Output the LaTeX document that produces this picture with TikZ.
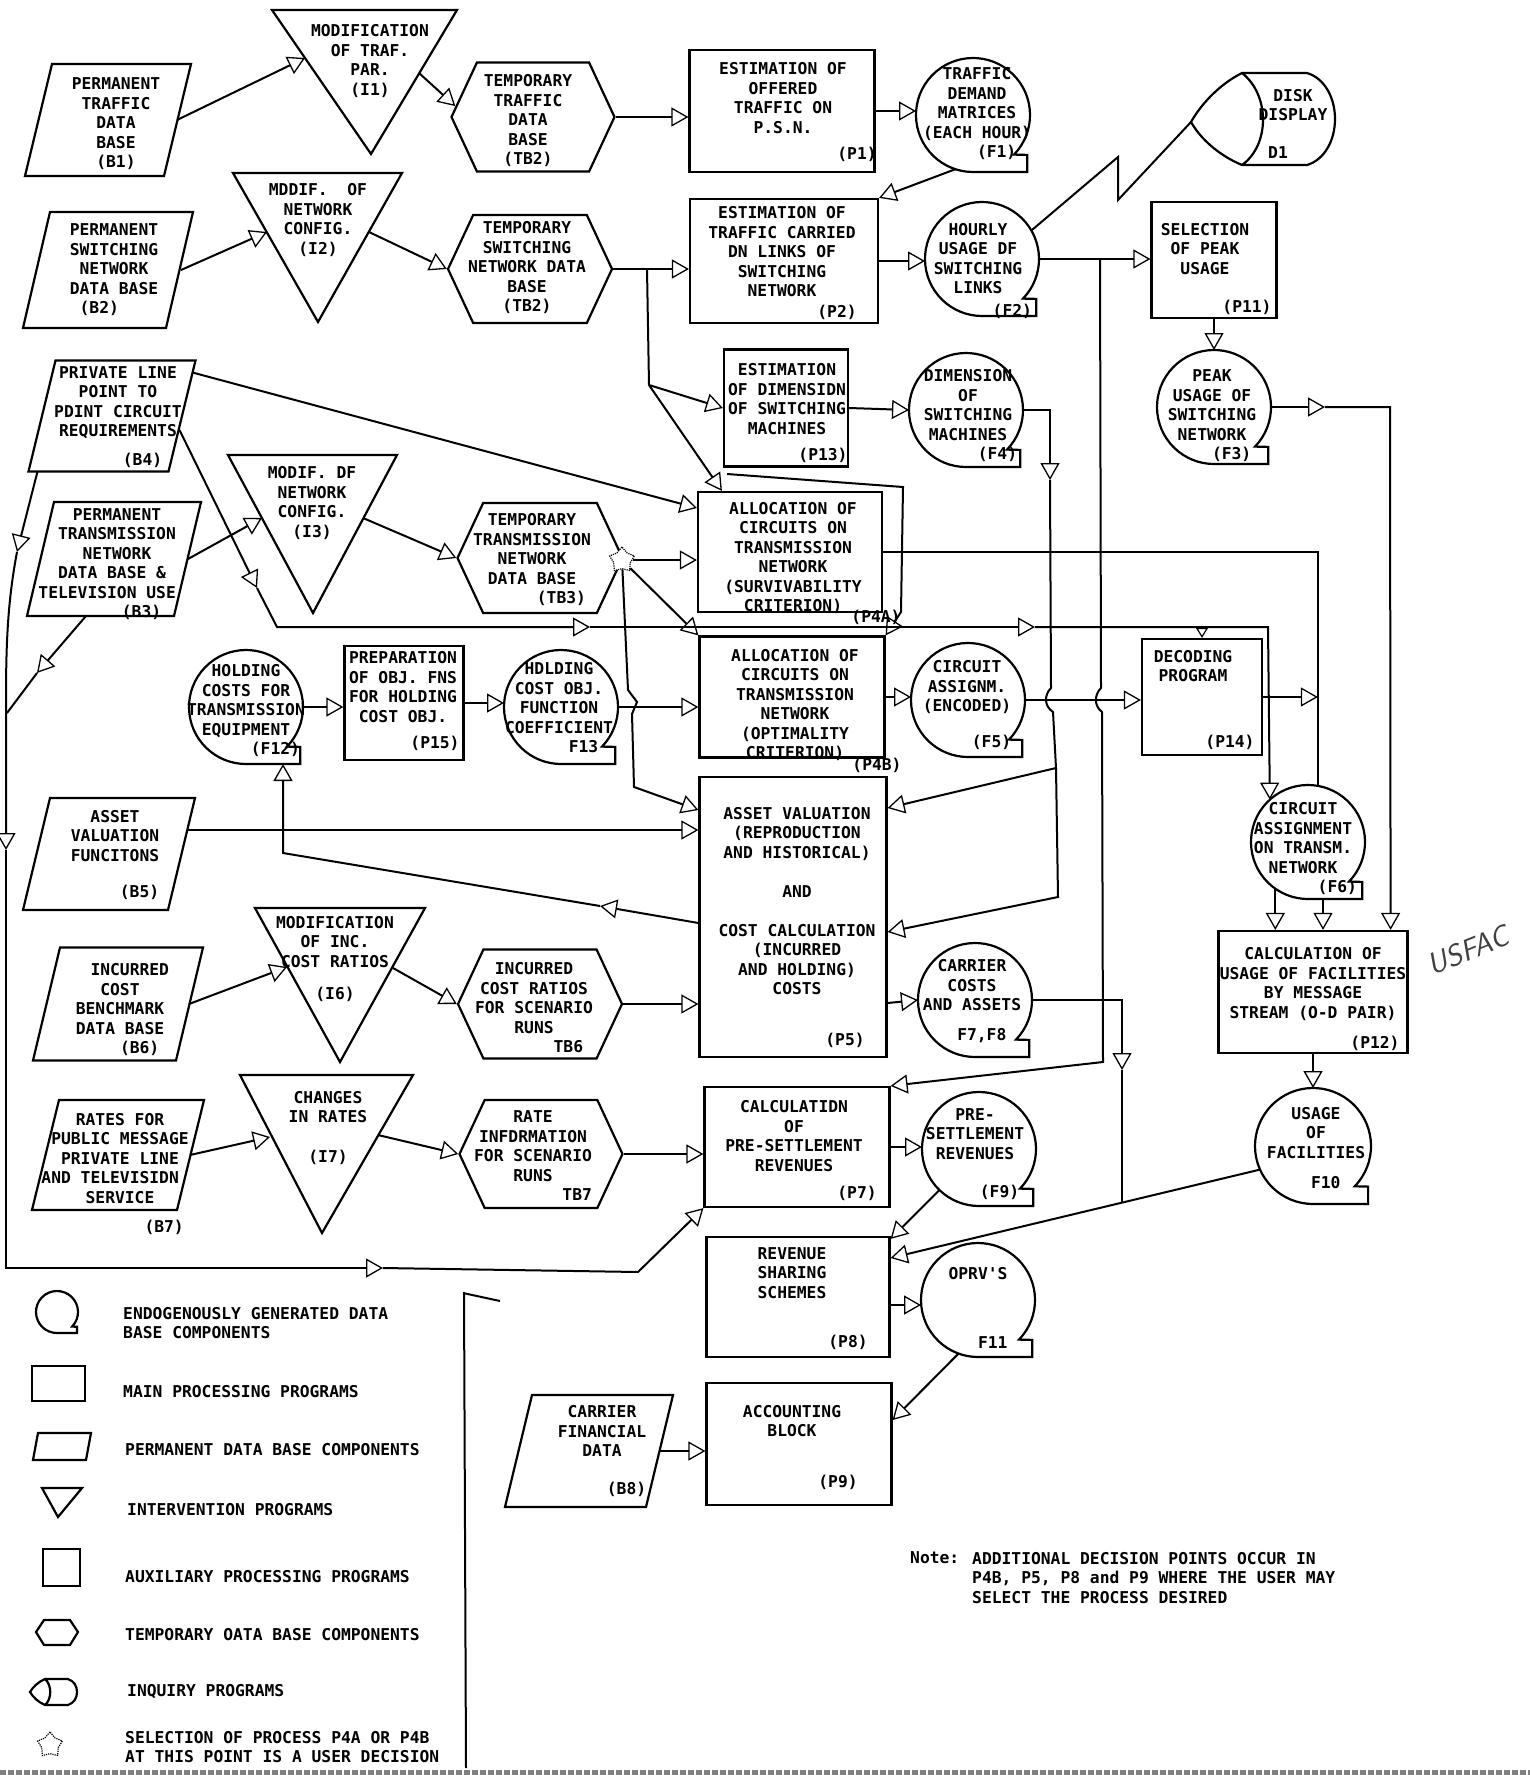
\documentclass[tikz,border=0pt]{standalone}
\usepackage{fontspec}
\newfontfamily\chartfont{DejaVu Sans Mono}
\usetikzlibrary{arrows.meta,shapes.geometric,shapes.symbols,calc}

% circle with square tab (endogenous data base)
\newcommand{\tapebase}[2]{%
  \draw[shp] (#1.center) ++(-44:#2pt) arc[start angle=-44,end angle=270,radius=#2pt]
    -- ++(0.95*#2pt,0pt) -- ++(0pt,0.3*#2pt) -- cycle;}
% slanted outline of a permanent data base
\newcommand{\permshape}[1]{%
  \draw[shp] ([xshift=27pt]#1.north west) -- (#1.north east)
    -- ([xshift=-27pt]#1.south east) -- (#1.south west) -- cycle;}

\begin{document}
\begin{tikzpicture}[x=1pt, y=-1pt,
  line/.style={line width=2pt},
  shp/.style={line width=2.2pt},
  arr/.style={line width=2pt, -{Triangle[open,length=17pt,width=19pt,line width=1.3pt]}},
  arrsmall/.style={line width=2pt, -{Triangle[open,length=10pt,width=12pt,line width=1.2pt]}},
  txt/.style={font=\chartfont\bfseries\fontsize{16.3}{19.5}\selectfont, align=center, inner sep=0pt},
  lgd/.style={txt, align=left, anchor=west},
  proc/.style={draw, shp, rectangle, inner sep=0pt},
  perm/.style={rectangle, inner sep=0pt, outer sep=0pt},
  temp/.style={draw, shp, signal, signal to=east and west, signal pointer angle=130, inner sep=0pt},
  endo/.style={circle, minimum size=114pt, inner sep=0pt, outer sep=0pt},
  sel/.style={star, star points=5, draw, line width=1.2pt, densely dotted, fill=white,
    minimum size=26pt, inner sep=0pt}]

\fill[white] (0,0) rectangle (1530,1775);
\useasboundingbox (0,0) rectangle (1530,1775);

% Permanent data bases
\node[perm, minimum width=166, minimum height=112] (B1) at (108,120) {};
\node[perm, minimum width=170, minimum height=116] (B2) at (108,270) {};
\node[perm, minimum width=167, minimum height=111] (B4) at (112,416) {};
\node[perm, minimum width=174, minimum height=114] (B3) at (114,559) {};
\node[perm, minimum width=172, minimum height=112] (B5) at (109,854) {};
\node[perm, minimum width=170, minimum height=113] (B6) at (118,1004) {};
\node[perm, minimum width=172, minimum height=110] (B7) at (118,1155) {};
\node[perm, minimum width=168, minimum height=112] (B8) at (589,1451) {};
\foreach \b in {B1,B2,B3,B4,B5,B6,B7,B8}
  \permshape{\b};
\node[txt] (B1t) at (116,124) {PERMANENT\\TRAFFIC\\DATA\\BASE\\(B1)};
\node[txt] (B2t) at (114,270) {PERMANENT\\SWITCHING\\NETWORK\\DATA BASE\\(B2)\hphantom{xxx}};
\node[txt] (B4t) at (118,417) {PRIVATE LINE\\POINT TO\\PDINT CIRCUIT\\REQUIREMENTS\\[9pt]\hphantom{xxxxx}(B4)};
\node[txt] (B3t) at (117,564) {PERMANENT\\TRANSMISSION\\NETWORK\\DATA BASE \&\hphantom{x}\\TELEVISION USE\hphantom{xx}\\\hphantom{xxxxx}(B3)};
\node[txt] (B5t) at (115,855) {ASSET\\VALUATION\\FUNCITONS\\[17pt]\hphantom{xxxxx}(B5)};
\node[txt] (B6t) at (120,1010) {\hphantom{xx}INCURRED\\COST\\BENCHMARK\\DATA BASE\\\hphantom{xxxx}(B6)};
\node[txt] (B7t) at (120,1174) {RATES FOR\\PUBLIC MESSAGE\\PRIVATE LINE\\AND TELEVISIDN\hphantom{xx}\\SERVICE\\[10pt]\hphantom{xxxxxxxxx}(B7)};
\node[txt] (B8t) at (602,1451) {CARRIER\\FINANCIAL\\DATA\\[18pt]\hphantom{xxxxx}(B8)};

% Intervention programs
\draw[shp] (272,10) -- (457,10) -- (371,154) -- cycle;
\draw[shp] (233,173) -- (402,173) -- (318,322) -- cycle;
\draw[shp] (228,455) -- (397,455) -- (313,613) -- cycle;
\draw[shp] (255,908) -- (425,908) -- (340,1062) -- cycle;
\draw[shp] (240,1075) -- (413,1075) -- (322,1233) -- cycle;
\node[txt] (I1) at (370,61) {MODIFICATION\\OF TRAF.\\PAR.\\(I1)};
\node[txt] (I2) at (318,220) {MDDIF.~~OF\\NETWORK\\CONFIG.\\(I2)};
\node[txt] (I3) at (312,503) {MODIF. DF\\NETWORK\\CONFIG.\\(I3)};
\node[txt] (I6) at (335,959) {MODIFICATION\\OF INC.\\COST RATIOS\\[13pt](I6)};
\node[txt] (I7) at (328,1128) {CHANGES\\IN RATES\\[20pt](I7)};
\coordinate (I1l) at (305,58);  \coordinate (I1r) at (419,73);
\coordinate (I2l) at (267,232); \coordinate (I2r) at (369,232);
\coordinate (I3l) at (262,518); \coordinate (I3r) at (363,518);
\coordinate (I6l) at (287,967); \coordinate (I6r) at (393,968);
\coordinate (I7l) at (270,1137); \coordinate (I7r) at (378,1135);

% Temporary data bases
\node[temp, minimum width=163, minimum height=109] (TB1) at (533,117) {};
\node[temp, minimum width=164, minimum height=108] (TB2) at (530,269) {};
\node[temp, minimum width=165, minimum height=110] (TB3) at (540,558) {};
\node[temp, minimum width=164, minimum height=109] (TB6) at (540,1004) {};
\node[temp, minimum width=163, minimum height=108] (TB7) at (541,1154) {};
\node[txt] (TB1t) at (528,121) {TEMPORARY\\TRAFFIC\\DATA\\BASE\\(TB2)};
\node[txt] (TB2t) at (527,268) {TEMPORARY\\SWITCHING\\NETWORK DATA\\BASE\\(TB2)};
\node[txt] (TB3t) at (532,560) {TEMPORARY\\TRANSMISSION\\NETWORK\\DATA BASE\\\hphantom{xxxxxx}(TB3)};
\node[txt] (TB6t) at (534,1008) {INCURRED\\COST RATIOS\\FOR SCENARIO\\RUNS\\\hphantom{xxxxxxx}TB6};
\node[txt] (TB7t) at (533,1156) {RATE\\INFDRMATION\\FOR SCENARIO\\RUNS\\\hphantom{xxxxxxxxx}TB7};

% Main processing programs
\node[proc, minimum width=185, minimum height=122] (P1) at (782,111) {};
\node[proc, minimum width=188, minimum height=124] (P2) at (784,261) {};
\node[proc, minimum width=124, minimum height=117] (P13) at (786,408) {};
\node[proc, minimum width=184, minimum height=120] (P4A) at (790,552) {};
\node[proc, minimum width=185, minimum height=121] (P4B) at (792,697) {};
\node[proc, minimum width=187, minimum height=280] (P5) at (793,917) {};
\node[proc, minimum width=185, minimum height=120] (P7) at (797,1147) {};
\node[proc, minimum width=183, minimum height=120] (P8) at (798,1297) {};
\node[proc, minimum width=185, minimum height=122] (P9) at (799,1444) {};
\node[proc, minimum width=125, minimum height=116] (P11) at (1214,260) {};
\node[proc, minimum width=189, minimum height=122] (P12) at (1313,992) {};
\node[proc, minimum width=120, minimum height=116] (P14) at (1202,697) {};
\node[proc, minimum width=119, minimum height=114] (P15) at (404,703) {};
\node[txt] (P1t) at (783,98) {ESTIMATION OF\\OFFERED\\TRAFFIC ON\\P.S.N.};
\node[txt] (P2t) at (782,252) {ESTIMATION OF\\TRAFFIC CARRIED\\DN LINKS OF\\SWITCHING\\NETWORK};
\node[txt] (P13t) at (787,399) {ESTIMATION\\OF DIMENSIDN\\OF SWITCHING\\MACHINES};
\node[txt] (P4At) at (793,558) {ALLOCATION OF\\CIRCUITS ON\\TRANSMISSION\\NETWORK\\(SURVIVABILITY\\CRITERION)};
\node[txt] (P4Bt) at (795,705) {ALLOCATION OF\\CIRCUITS ON\\TRANSMISSION\\NETWORK\\(OPTIMALITY\\CRITERION)};
\node[txt] (P5t) at (797,901) {ASSET VALUATION\\(REPRODUCTION\\AND HISTORICAL)\\[19.5pt]AND\\[19.5pt]COST CALCULATION\\(INCURRED\\AND HOLDING)\\COSTS};
\node[txt] (P7t) at (794,1136) {CALCULATIDN\\OF\\PRE-SETTLEMENT\\REVENUES};
\node[txt] (P8t) at (792,1273) {REVENUE\\SHARING\\SCHEMES};
\node[txt] (P9t) at (792,1421) {ACCOUNTING\\BLOCK};
\node[txt] (P11t) at (1205,249) {SELECTION\\OF PEAK\\USAGE};
\node[txt] (P12t) at (1313,984) {CALCULATION OF\\USAGE OF FACILITIES\\BY MESSAGE\\STREAM (O-D PAIR)};
\node[txt] (P14t) at (1193,666) {DECODING\\PROGRAM};
\node[txt] (P15t) at (403,687) {PREPARATION\\OF OBJ. FNS\\FOR HOLDING\\COST OBJ.};
\node[txt] (P1id) at (857,154) {(P1)};
\node[txt] (P2id) at (837,312) {(P2)};
\node[txt] (P13id) at (823,455) {(P13)};
\node[txt] (P4Aid) at (876,617) {(P4A)};
\node[txt] (P4Bid) at (877,765) {(P4B)};
\node[txt] (P5id) at (845,1040) {(P5)};
\node[txt] (P7id) at (857,1193) {(P7)};
\node[txt] (P8id) at (848,1342) {(P8)};
\node[txt] (P9id) at (838,1482) {(P9)};
\node[txt] (P11id) at (1247,307) {(P11)};
\node[txt] (P12id) at (1375,1043) {(P12)};
\node[txt] (P14id) at (1230,742) {(P14)};
\node[txt] (P15id) at (435,743) {(P15)};

% Endogenously generated data bases
\node[endo] (F1) at (973,115) {};
\node[endo] (F2) at (982,259) {};
\node[endo] (F3) at (1214,407) {};
\node[endo] (F4) at (966,410) {};
\node[endo] (F5) at (968,700) {};
\node[endo] (F6) at (1308,842) {};
\node[endo] (F78) at (975,1000) {};
\node[endo] (F9) at (979,1149) {};
\node[endo, minimum size=116pt] (F10) at (1313,1146) {};
\node[endo] (F11) at (978,1300) {};
\node[endo] (F12) at (246,707) {};
\node[endo] (F13) at (561,707) {};
\foreach \f in {F1,F2,F3,F4,F5,F6,F78,F9,F11,F12,F13}
  \tapebase{\f}{57};
\tapebase{F10}{58}
\node[txt] (F1t) at (977,114) {TRAFFIC\\DEMAND\\MATRICES\\(EACH HOUR)\\\hphantom{xxxx}(F1)};
\node[txt] (F2t) at (978,271) {HOURLY\\USAGE DF\\SWITCHING\\LINKS\\[3pt]\hphantom{xxxxxxx}(F2)};
\node[txt] (F3t) at (1212,416) {PEAK\\USAGE OF\\SWITCHING\\NETWORK\\\hphantom{xxxx}(F3)};
\node[txt] (F4t) at (968,416) {DIMENSION\\OF\\SWITCHING\\MACHINES\\\hphantom{xxxxxx}(F4)};
\node[txt] (F5t) at (967,705) {CIRCUIT\\ASSIGNM.\\(ENCODED)\\[16pt]\hphantom{xxxxx}(F5)};
\node[txt] (F6t) at (1303,849) {CIRCUIT\\ASSIGNMENT\\ON TRANSM.\\NETWORK\\\hphantom{xxxxxxx}(F6)};
\node[txt] (F78t) at (972,1001) {CARRIER\\COSTS\\AND ASSETS\\[10pt]\hphantom{xx}F7,F8};
\node[txt] (F9t) at (975,1154) {PRE-\\SETTLEMENT\\REVENUES\\[19pt]\hphantom{xxxxx}(F9)};
\node[txt] (F10t) at (1316,1148) {USAGE\\OF\\FACILITIES\\[11pt]\hphantom{xx}F10};
\node[txt] (F11t) at (978,1308) {OPRV'S\\[50pt]\hphantom{xxx}F11};
\node[txt] (F12t) at (246,711) {HOLDING\\COSTS FOR\\TRANSMISSION\\EQUIPMENT\\\hphantom{xxxxxx}(F12)};
\node[txt] (F13t) at (559,708) {HDLDING\\COST OBJ.\\FUNCTION\\COEFFICIENT\\\hphantom{xxxxx}F13};

% Disk display
\draw[shp] (1242,73) -- (1307,73) .. controls (1324,78) and (1335,97) .. (1335,119)
  .. controls (1335,141) and (1324,160) .. (1307,165) -- (1242,165)
  .. controls (1218,155) and (1200,138) .. (1191,122)
  .. controls (1200,106) and (1218,85) .. (1242,73)
  .. controls (1270,95) and (1270,145) .. (1242,165);
\coordinate (D1w) at (1191,122);
\node[txt] (D1) at (1293,105) {DISK\\DISPLAY};
\node[txt] (D1id) at (1278,153) {D1};

% Selection point
\node[sel] (sel) at (622,560) {};

% Row 1
\draw[arr] ([xshift=-14pt]B1.east) -- (I1l);
\draw[arr] (I1r) -- (TB1.172);
\draw[arr] (TB1.east) -- (TB1.east -| P1.west);
\draw[arr] (P1.east) -- (P1.east -| F1.west);
\draw[arr] (F1.252) -- (P2.north east);

% Row 2
\draw[arr] ([xshift=-12pt]B2.east) -- (I2l);
\draw[arr] (I2r) -- (TB2.west);
\draw[arr] (TB2.east) -- (TB2.east -| P2.west);
\coordinate (j1) at (647,269);
\draw[line] (j1) -- (649,385) coordinate (j2);
\draw[arr] (j2) -- (P13.west);
\draw[arr] (j2) -- ([xshift=25pt]P4A.north west);
\draw[arr] (727,474) -- (903,487) -- (901,612) -- (P4B.north east);
\draw[arr] (P2.east) -- (P2.east -| F2.west);
\draw[arr] (F2.east) -- (F2.east -| P11.west);
\coordinate (j3) at (1100,259);
\draw[arr] (j3) -- (1101,688) .. controls (1094,695) and (1094,706) .. (1102,712)
  -- (1103,1062) -- (P7.north east);
\draw[line] (F2.30) -- (1118,157) -- (1118,200) -- (D1w);
\draw[arr] (P11.south) -- (F3.north);
\draw[arr] (F3.east) -- (1325,407);
\draw[arr] (1325,407) -- (1390,407) -- ([xshift=-18pt]P12.north east);

% Row 3
\draw[arr] (P13.east) -- (F4.west);
\draw[arr] ([xshift=-3pt,yshift=-12pt]B4.north east) -- ([yshift=44pt]P4A.west);
\draw[arr] ([xshift=9pt]B4.south west) -- (17,552);
\draw[arr] (17,552) .. controls (8,600) and (6,640) .. (6,700) -- (6,850);
\draw[arr] (6,850) -- (6,1268) -- (383,1268);
\draw[arr] (383,1268) -- (638,1272) -- (P7.south west);
\draw[arr] ([xshift=-13pt]B3.east) -- (I3l);
\draw[arr] (I3r) -- (TB3.west);
\draw[arr] ([xshift=-28pt]B3.south) -- (37,673);
\draw[line] (37,673) -- (7,713);
\draw[arr] ([xshift=-16pt,yshift=-14pt]B4.east) -- (257,588);
\draw[arr] (257,588) -- (277,627) -- (590,627);
\draw[arr] (590,627) -- (1035,627);
\coordinate (b4e) at (1268,627);
\draw[arr] (1035,627) -- (b4e) -- (F6.132);
\draw[arrsmall] (P14.north |- b4e) -- (P14.north);

% Transmission allocation
\draw[arr] (sel) -- (sel -| P4A.west);
\draw[arr] (sel) -- (P4B.north west);
\draw[arr] (sel) -- (628,690) -- (637,702) -- (632,714) -- (634,787) -- ([yshift=107pt]P5.west);
\draw[arr] (F12.east) -- (F12.east -| P15.west);
\draw[arr] (P15.east) -- (P15.east -| F13.west);
\draw[arr] (F13.east) -- (F13.east -| P4B.west);
\draw[arr] (P4B.east) -- (P4B.east -| F5.west);
\draw[arr] (F5.east) -- (F5.east -| P14.west);
\draw[line] (P4A.east) -| (F6.80);
\draw[arr] (P14.east) -- (P14.east -| F6.80);
\draw[arr] (F4.east) -- (1050,410) -- (1050,480);
\draw[arr] (1050,480) -- (1051,688) .. controls (1044,695) and (1044,706) .. (1053,712)
  -- (1056,768) -- ([yshift=109pt]P5.east);
\draw[arr] (1056,768) -- (1058,897) -- ([yshift=-15pt]P5.east);
\draw[arr] (F6.235) -- (F6.235 |- P12.north);
\draw[arr] ([xshift=15pt]F6.south) -- ([xshift=15pt]F6.south |- P12.north);
\draw[arr] (P12.south) -- (F10.north);

% Costs and revenues
\draw[arr] ([yshift=-86pt]P5.east) -- (F78.west);
\draw[arr] ([yshift=-6pt]P5.west) -- (600,906);
\draw[arr] (600,906) -- (283,853) -- ([xshift=37pt]F12.south);
\draw[arr] ([xshift=-8pt,yshift=24pt]B5.east) -- ([yshift=24pt]B5.east -| P5.west);
\draw[arr] (TB6.east) -- (TB6.east -| P5.west);
\draw[arr] ([xshift=-14pt]B6.east) -- (I6l);
\draw[arr] (I6r) -- (TB6.west);
\draw[arr] ([xshift=-14pt]B7.east) -- (I7l);
\draw[arr] (I7r) -- (TB7.west);
\draw[arr] (TB7.east) -- (TB7.east -| P7.west);
\draw[arr] (P7.east) -- (P7.east -| F9.west);
\draw[arr] (F9.226) -- ([yshift=-3pt]P8.north east);
\draw[arr] ([yshift=-8pt]P8.east) -- ([yshift=-8pt]P8.east -| F11.west);
\draw[arr] (F11.250) -- ([yshift=24pt]P9.east);
\draw[arr] ([xshift=-13pt]B8.east) -- (B8.east -| P9.west);
\draw[arr] (F78.east) -- (1122,1000) -- (1122,1070);
\draw[line] (1122,1070) -- (1122,1202);
\draw[arr] (F10.204) -- ([yshift=39pt]P8.east);

% Legend
\draw[shp] (57,1312) ++(-44:21pt) arc[start angle=-44,end angle=270,radius=21pt]
  -- ++(20pt,0pt) -- ++(0pt,6.3pt) -- cycle;
\draw[shp] (32,1366) rectangle (85,1401);
\draw[shp] (38,1433) -- (91,1433) -- (86,1460) -- (33,1460) -- cycle;
\draw[shp] (42,1488) -- (82,1488) -- (58,1517) -- cycle;
\draw[shp] (43,1549) rectangle (80,1586);
\draw[shp] (36,1632) -- (44,1620) -- (70,1620) -- (78,1632) -- (70,1645) -- (44,1645) -- cycle;
\draw[shp] (45,1679) -- (68,1679) .. controls (74,1681) and (77,1686) .. (77,1692)
  .. controls (77,1698) and (74,1703) .. (68,1705) -- (45,1705)
  .. controls (38,1702) and (33,1697) .. (30,1692)
  .. controls (33,1687) and (38,1682) .. (45,1679)
  .. controls (52,1685) and (52,1699) .. (45,1705);
\node[sel] (lsel) at (50,1745) {};
\node[lgd] (L1) at (123,1323) {ENDOGENOUSLY GENERATED DATA\\BASE COMPONENTS};
\node[lgd] (L2) at (123,1392) {MAIN PROCESSING PROGRAMS};
\node[lgd] (L3) at (125,1450) {PERMANENT DATA BASE COMPONENTS};
\node[lgd] (L4) at (127,1510) {INTERVENTION PROGRAMS};
\node[lgd] (L5) at (125,1577) {AUXILIARY PROCESSING PROGRAMS};
\node[lgd] (L6) at (125,1635) {TEMPORARY OATA BASE COMPONENTS};
\node[lgd] (L7) at (127,1692) {INQUIRY PROGRAMS};
\node[lgd] (L8) at (125,1747) {SELECTION OF PROCESS P4A OR P4B\\AT THIS POINT IS A USER DECISION};
\draw[line] (464,1292) -- (466,1768);
\draw[line] (463,1293) -- (500,1301);

% Note
\node[lgd] (note) at (910,1558) {Note:};
\node[lgd] (notetext) at (972,1578) {ADDITIONAL DECISION POINTS OCCUR IN\\P4B, P5, P8 and P9 WHERE THE USER MAY\\SELECT THE PROCESS DESIRED};
\node[font=\sffamily\itshape\fontsize{30}{30}\selectfont, rotate=22, text=black!75] (usfac) at (1468,950) {USFAC};

% page edge
\draw[gray, line width=5pt, dash pattern=on 6pt off 2pt] (0,1772) -- (1530,1772);
\end{tikzpicture}
\end{document}
